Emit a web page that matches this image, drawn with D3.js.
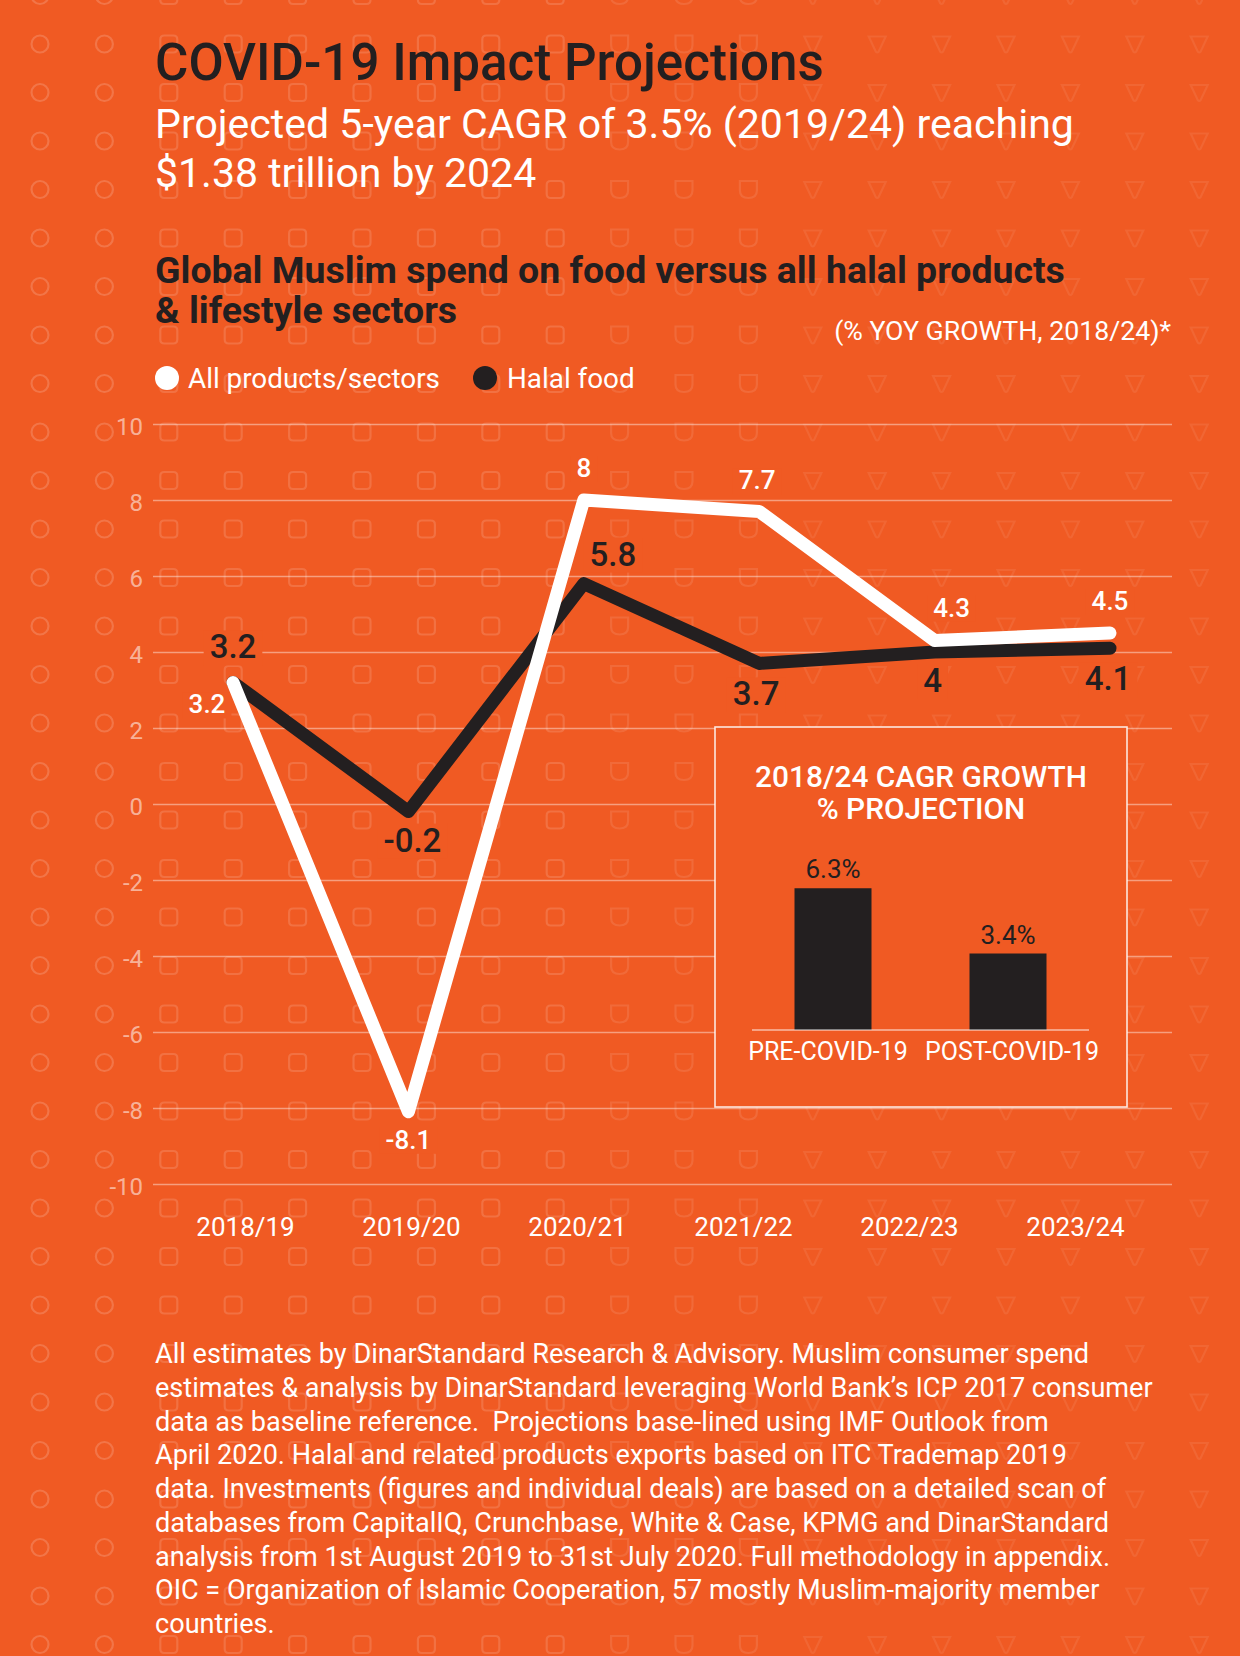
<!DOCTYPE html>
<html><head><meta charset="utf-8">
<script src="https://cdn.jsdelivr.net/npm/d3@7"></script>
<style>html,body{margin:0;padding:0;background:#F05A23;} svg{display:block}</style>
</head><body><svg id="c" width="1240" height="1656"></svg>
<script>
// ---------- data ----------
const categories = ["2018/19","2019/20","2020/21","2021/22","2022/23","2023/24"];
const allProducts = [3.2, -8.1, 8, 7.7, 4.3, 4.5];
const halalFood = [3.2, -0.2, 5.8, 3.7, 4, 4.1];
const yTicks = [10, 8, 6, 4, 2, 0, -2, -4, -6, -8, -10];
const seriesNames = ["All products/sectors", "Halal food"];
const insetCategories = ["PRE-COVID-19", "POST-COVID-19"];
const insetValues = [6.3, 3.4];
const insetValueLabels = ["6.3%", "3.4%"];
const titleText = "COVID-19 Impact Projections";
const subtitleLines = ["Projected 5-year CAGR of 3.5% (2019/24) reaching", "$1.38 trillion by 2024"];
const chartTitleLines = ["Global Muslim spend on food versus all halal products", "& lifestyle sectors"];
const unitText = "(% YOY GROWTH, 2018/24)*";
const insetTitleLines = ["2018/24 CAGR GROWTH", "% PROJECTION"];
const footerLines = [
 "All estimates by DinarStandard Research & Advisory. Muslim consumer spend",
 "estimates & analysis by DinarStandard leveraging World Bank\u2019s ICP 2017 consumer",
 "data as baseline reference.  Projections base-lined using IMF Outlook from",
 "April 2020. Halal and related products exports based on ITC Trademap 2019",
 "data. Investments (figures and individual deals) are based on a detailed scan of",
 "databases from CapitalIQ, Crunchbase, White & Case, KPMG and DinarStandard",
 "analysis from 1st August 2019 to 31st July 2020. Full methodology in appendix.",
 "OIC = Organization of Islamic Cooperation, 57 mostly Muslim-majority member",
 "countries."
];

// ---------- layout / style (not data) ----------
const BG = "#F05A23", DARK = "#231F20", WHITE = "#FFFFFF";
const FONT = "Roboto, 'Liberation Sans', sans-serif";
const allLabelOffsets = [[-26,31],[0,37],[0,-23],[-2,-22],[17,-24],[0,-23]];
const halalLabelOffsets = [[0,-24],[4,40],[29,-18],[-3,42],[-2,40],[-2,42]];

const svg = d3.select("#c");
svg.append("rect").attr("width",1240).attr("height",1656).attr("fill",BG);

// ---------- background pattern ----------
const pat = svg.append("g").attr("fill","none").attr("stroke-width",2.2);
function shapePath(k){
  const p = d3.path();
  const s = 8.5;
  if (k <= 1) { p.arc(0,0,s,0,Math.PI*2); }
  else if (k <= 8) { // rounded square
    const r=4; p.moveTo(-s+r,-s); p.lineTo(s-r,-s); p.quadraticCurveTo(s,-s,s,-s+r); p.lineTo(s,s-r); p.quadraticCurveTo(s,s,s-r,s);
    p.lineTo(-s+r,s); p.quadraticCurveTo(-s,s,-s,s-r); p.lineTo(-s,-s+r); p.quadraticCurveTo(-s,-s,-s+r,-s); p.closePath();
  } else if (k <= 11) { // cup
    p.moveTo(-s,-s); p.lineTo(s,-s); p.lineTo(s,1); p.quadraticCurveTo(s,s,0,s); p.quadraticCurveTo(-s,s,-s,1); p.closePath();
  } else { // shield / inverted triangle
    p.moveTo(-s,-s+1); p.lineTo(s,-s+1); p.lineTo(1.5,7.5); p.quadraticCurveTo(0,9.5,-1.5,7.5); p.closePath();
  }
  return p.toString();
}
for (let k=0;k<19;k++){
  const d = shapePath(k);
  const op = k<=1 ? 0.17 : (k<=8 ? 0.14 : (k<=11 ? 0.1 : 0.075));
  for (let j=-1;j<35;j++){
    pat.append("path").attr("d",d).attr("stroke",`rgba(255,255,255,${op})`)
      .attr("transform",`translate(${40+64.4*k},${44+48.5*j})`);
  }
}

function fit(sel, w){
  const l = sel.node().getComputedTextLength();
  const fs = parseFloat(sel.attr("font-size"));
  sel.attr("font-size", (fs*w/l).toFixed(2));
  return fs*w/l;
}

// ---------- titles ----------
const t = svg.append("text").attr("x",155).attr("y",80).attr("font-family",FONT).attr("font-weight",500)
  .attr("font-size",46).attr("fill",DARK).text(titleText);
fit(t, 669);

const sub = svg.append("g").attr("font-family",FONT).attr("fill",WHITE);
const s1 = sub.append("text").attr("x",155).attr("y",138).attr("font-size",36).text(subtitleLines[0]);
const subFs = fit(s1, 919);
sub.append("text").attr("x",155).attr("y",187).attr("font-size",subFs).text(subtitleLines[1]);

const ct = svg.append("g").attr("font-family",FONT).attr("font-weight",700).attr("fill",DARK);
const c1 = ct.append("text").attr("x",155).attr("y",283).attr("font-size",31).text(chartTitleLines[0]);
const ctFs = fit(c1, 910);
ct.append("text").attr("x",155).attr("y",323).attr("font-size",ctFs).text(chartTitleLines[1]);

const u = svg.append("text").attr("x",1171).attr("y",340).attr("text-anchor","end").attr("font-family",FONT)
  .attr("font-size",24).attr("fill",WHITE).text(unitText);
fit(u, 337);

// ---------- legend ----------
const lg = svg.append("g").attr("font-family",FONT).attr("fill",WHITE);
lg.append("circle").attr("cx",167).attr("cy",378).attr("r",12).attr("fill",WHITE);
const lt1 = lg.append("text").attr("x",188).attr("y",388).attr("font-size",26).text(seriesNames[0]);
const lgFs = fit(lt1, 252);
lg.append("circle").attr("cx",485).attr("cy",378).attr("r",12).attr("fill",DARK);
lg.append("text").attr("x",507).attr("y",388).attr("font-size",lgFs).text(seriesNames[1]);

// ---------- scales ----------
const y = d3.scaleLinear().domain([-10,10]).range([1184,424]);
const xLine = d3.scalePoint().domain(categories).range([233,1110]);
const xLab = d3.scalePoint().domain(categories).range([245,1075]);

// y axis with gridlines
const yAxis = svg.append("g").attr("transform","translate(153,0)")
  .call(d3.axisLeft(y).tickValues(yTicks).tickSize(-(1172-153)).tickPadding(10).tickFormat(d3.format("d")));
yAxis.select(".domain").remove();
yAxis.selectAll(".tick line").attr("stroke","rgba(255,255,255,0.42)").attr("stroke-width",1.6);
yAxis.selectAll(".tick text").attr("fill","rgba(255,255,255,0.55)").attr("font-family",FONT)
  .attr("font-size",24).attr("dy","0.42em").text(d => d < 0 ? "-" + Math.abs(d) : d);

// x axis labels
const xAxis = svg.append("g").attr("transform","translate(0,1236)")
  .call(d3.axisBottom(xLab).tickSize(0).tickPadding(0));
xAxis.select(".domain").remove();
xAxis.selectAll(".tick text").attr("fill",WHITE).attr("font-family",FONT).attr("font-size",26)
  .attr("y",0).attr("dy",0);

// ---------- data labels (backgrounds first) ----------
const labG = svg.append("g");
const bgG = labG.append("g");
const txG = labG.append("g");
function addLabels(vals, offs, color, fs, fw){
  vals.forEach((v,i)=>{
    const tx = txG.append("text")
      .attr("x", xLine(categories[i]) + offs[i][0])
      .attr("y", y(v) + offs[i][1])
      .attr("text-anchor","middle").attr("font-family",FONT).attr("font-weight",fw)
      .attr("font-size",fs).attr("fill",color).text(v < 0 ? "-" + Math.abs(v) : v);
    const b = tx.node().getBBox();
    bgG.append("rect").attr("x",b.x-6).attr("y",b.y+3).attr("width",b.width+12).attr("height",b.height-4).attr("fill",BG);
  });
}

// ---------- inset box ----------
const inset = svg.append("g");
inset.append("rect").attr("x",715).attr("y",727).attr("width",412).attr("height",380)
  .attr("fill",BG).attr("stroke","rgba(255,255,255,0.85)").attr("stroke-width",1.6);
const it = inset.append("g").attr("font-family",FONT).attr("font-weight",500).attr("fill",WHITE).attr("text-anchor","middle");
const it1 = it.append("text").attr("x",921).attr("y",787).attr("font-size",26).text(insetTitleLines[0]);
const itFs = fit(it1, 332);
it.append("text").attr("x",921).attr("y",819).attr("font-size",itFs).text(insetTitleLines[1]);

const bx = d3.scaleBand().domain(insetCategories).range([745.5,1095.5]).paddingInner(0.56).paddingOuter(0.28);
const by = d3.scaleLinear().domain([0,10]).range([1030,805]);
inset.selectAll("rect.bar").data(insetValues).join("rect").attr("class","bar")
  .attr("x",(d,i)=>bx(insetCategories[i])).attr("width",bx.bandwidth())
  .attr("y",d=>by(d)).attr("height",d=>by(0)-by(d)).attr("fill",DARK);
inset.append("line").attr("x1",752).attr("x2",1089).attr("y1",by(0)).attr("y2",by(0))
  .attr("stroke","rgba(255,255,255,0.6)").attr("stroke-width",1.5);
inset.selectAll("text.val").data(insetValues).join("text").attr("class","val")
  .attr("x",(d,i)=>bx(insetCategories[i])+bx.bandwidth()/2).attr("y",d=>by(d)-10)
  .attr("text-anchor","middle").attr("font-family",FONT).attr("font-size",26)
  .attr("fill",DARK).text((d,i)=>insetValueLabels[i]);
const catShift = [-5, 4];
inset.selectAll("text.cat").data(insetCategories).join("text").attr("class","cat")
  .attr("x",(d,i)=>bx(d)+bx.bandwidth()/2+catShift[i]).attr("y",1060)
  .attr("text-anchor","middle").attr("font-family",FONT).attr("font-size",25)
  .attr("fill",WHITE).text(d=>d);

// ---------- lines ----------
addLabels(allProducts, allLabelOffsets, WHITE, 26, 500);
addLabels(halalFood, halalLabelOffsets, DARK, 33, 500);
const line = d3.line().x((d,i)=>xLine(categories[i])).y(d=>y(d));
const linesG = svg.append("g").attr("fill","none").attr("stroke-width",13)
  .attr("stroke-linecap","round").attr("stroke-linejoin","round");
linesG.append("path").datum(halalFood).attr("d",line).attr("stroke",DARK);
linesG.append("path").datum(allProducts).attr("d",line).attr("stroke",WHITE);
txG.raise();

// ---------- footer ----------
const ft = svg.append("g").attr("font-family",FONT).attr("fill",WHITE);
const f2 = ft.append("text").attr("x",155).attr("y",1363+33.75).attr("font-size",24).text(footerLines[1]);
const ftFs = fit(f2, 998);
f2.remove();
footerLines.forEach((l,i)=>{
  ft.append("text").attr("x",155).attr("y",1363+33.75*i).attr("font-size",ftFs).attr("xml:space","preserve").text(l);
});
</script></body></html>
